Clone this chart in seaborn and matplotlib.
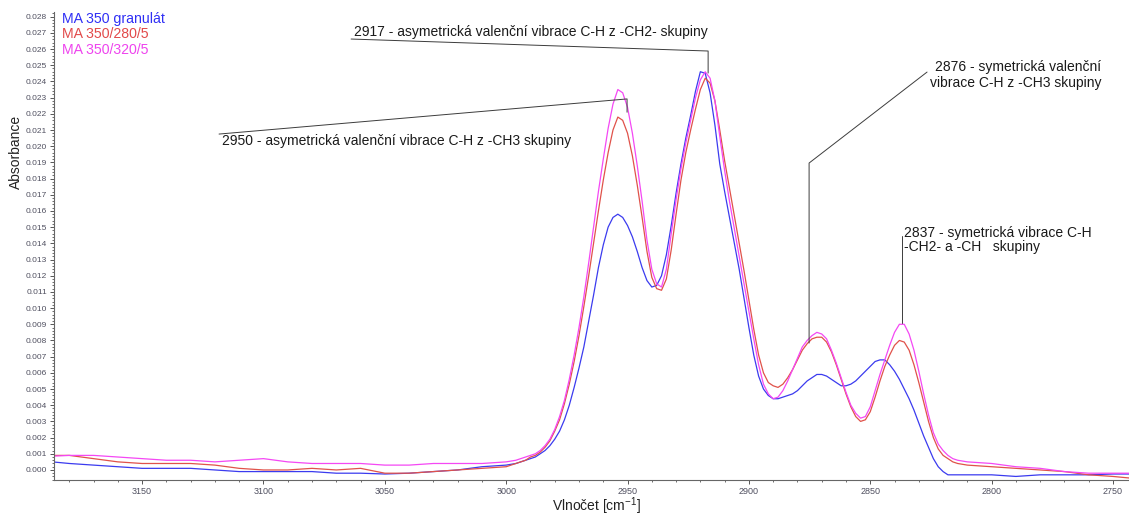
import numpy as np
import pandas as pd
import matplotlib
matplotlib.use('Agg')
import matplotlib.pyplot as plt
import seaborn as sns
from matplotlib.ticker import MultipleLocator, FormatStrFormatter

# wavenumber grid [cm-1]
wavenumber = [
    3187, 3180, 3170, 3160, 3150, 3140, 3130, 3120, 3110, 3100,
    3090, 3080, 3070, 3060, 3050, 3040, 3030, 3020, 3010, 3000,
    2996, 2994, 2992, 2990, 2988, 2986, 2984, 2982, 2980, 2978,
    2976, 2974, 2972, 2970, 2968, 2966, 2964, 2962, 2960, 2958,
    2956, 2954, 2952, 2950, 2948, 2946, 2944, 2942, 2940, 2938,
    2936, 2934, 2932, 2930, 2928, 2926, 2924, 2922, 2920, 2918,
    2916, 2914, 2912, 2910, 2908, 2906, 2904, 2902, 2900, 2898,
    2896, 2894, 2892, 2890, 2888, 2886, 2884, 2882, 2880, 2878,
    2876, 2874, 2872, 2870, 2868, 2866, 2864, 2862, 2860, 2858,
    2856, 2854, 2852, 2850, 2848, 2846, 2844, 2842, 2840, 2838,
    2836, 2834, 2832, 2830, 2828, 2826, 2824, 2822, 2820, 2818,
    2816, 2814, 2810, 2800, 2790, 2780, 2770, 2760, 2750, 2743,
]

granulat = [
    0.0005, 0.0004, 0.0003, 0.0002, 0.0001, 0.0001, 0.0001, 0.0000, -0.0001, -0.0001,
    -0.0001, -0.0001, -0.0002, -0.0002, -0.00025, -0.0002, -0.0001, 0.0000, 0.0002, 0.0003,
    0.0004, 0.0005, 0.0006, 0.0007, 0.0008, 0.0010, 0.0012, 0.0015, 0.0019, 0.0024,
    0.0031, 0.0040, 0.0051, 0.0063, 0.0076, 0.0092, 0.0108, 0.0125, 0.0139, 0.0150,
    0.0156, 0.0158, 0.0156, 0.0151, 0.0144, 0.0135, 0.0125, 0.0117, 0.0113, 0.0114,
    0.0120, 0.0133, 0.0151, 0.0171, 0.0189, 0.0205, 0.0219, 0.0234, 0.0246, 0.0245,
    0.0233, 0.0213, 0.0189, 0.0172, 0.0156, 0.0140, 0.0124, 0.0106, 0.0088, 0.0071,
    0.0058, 0.0050, 0.0046, 0.0044, 0.0044, 0.0045, 0.0046, 0.0047, 0.0049, 0.0052,
    0.0055, 0.0057, 0.0059, 0.0059, 0.0058, 0.0056, 0.0054, 0.0052, 0.0052, 0.0053,
    0.0055, 0.0058, 0.0061, 0.0064, 0.0067, 0.0068, 0.0068, 0.0065, 0.0061, 0.0056,
    0.0050, 0.0044, 0.0037, 0.0029, 0.0021, 0.0014, 0.0007, 0.0002, -0.0001, -0.0003,
    -0.0003, -0.0003, -0.0003, -0.0003, -0.0004, -0.0003, -0.0003, -0.0003, -0.00025, -0.00025,
]

ma_280 = [
    0.0009, 0.0009, 0.0007, 0.0005, 0.0004, 0.0004, 0.0004, 0.0003, 0.0001, 0.0000,
    0.0000, 0.0001, 0.0000, 0.0001, -0.0002, -0.0002, -0.0001, 0.0000, 0.0001, 0.0002,
    0.0004, 0.0005, 0.0006, 0.0008, 0.0009, 0.0011, 0.0014, 0.0018, 0.0024, 0.0031,
    0.0041, 0.0053, 0.0067, 0.0083, 0.0101, 0.0120, 0.0140, 0.0160, 0.0179, 0.0196,
    0.0210, 0.0218, 0.0216, 0.0208, 0.0194, 0.0176, 0.0156, 0.0135, 0.0119, 0.0112,
    0.0111, 0.0118, 0.0136, 0.0158, 0.0179, 0.0196, 0.0210, 0.0223, 0.0235, 0.0242,
    0.0239, 0.0228, 0.0210, 0.0191, 0.0174, 0.0157, 0.0140, 0.0123, 0.0105, 0.0087,
    0.0071, 0.0060, 0.0054, 0.0052, 0.0051, 0.0053, 0.0057, 0.0062, 0.0068, 0.0074,
    0.0078, 0.0081, 0.0082, 0.0082, 0.0079, 0.0073, 0.0065, 0.0056, 0.0047, 0.0039,
    0.0033, 0.0030, 0.0031, 0.0036, 0.0045, 0.0055, 0.0064, 0.0071, 0.0077, 0.0080,
    0.0079, 0.0074, 0.0065, 0.0054, 0.0042, 0.0030, 0.0020, 0.0013, 0.0009, 0.0007,
    0.0005, 0.0004, 0.0003, 0.0002, 0.0001, 0.0000, -0.0001, -0.0003, -0.0004, -0.0005,
]

ma_320 = [
    0.00085, 0.0009, 0.0009, 0.0008, 0.0007, 0.0006, 0.0006, 0.0005, 0.0006, 0.0007,
    0.0005, 0.0004, 0.0004, 0.0004, 0.0003, 0.0003, 0.0004, 0.0004, 0.0004, 0.0005,
    0.0006, 0.0007, 0.0008, 0.0009, 0.0010, 0.0012, 0.0015, 0.0019, 0.0025, 0.0033,
    0.0043, 0.0056, 0.0071, 0.0088, 0.0107, 0.0128, 0.0150, 0.0172, 0.0192, 0.0211,
    0.0226, 0.0235, 0.0233, 0.0224, 0.0208, 0.0188, 0.0166, 0.0142, 0.0124, 0.0115,
    0.0113, 0.0124, 0.0146, 0.0167, 0.0186, 0.0202, 0.0216, 0.0230, 0.0241, 0.0246,
    0.0242, 0.0228, 0.0206, 0.0185, 0.0166, 0.0149, 0.0132, 0.0115, 0.0098, 0.0081,
    0.0065, 0.0053, 0.0047, 0.0044, 0.0045, 0.0049, 0.0055, 0.0062, 0.0069, 0.0076,
    0.0080, 0.0083, 0.0085, 0.0084, 0.0081, 0.0074, 0.0066, 0.0057, 0.0048, 0.0040,
    0.0035, 0.0032, 0.0033, 0.0039, 0.0049, 0.0059, 0.0068, 0.0077, 0.0085, 0.0090,
    0.0090, 0.0084, 0.0074, 0.0061, 0.0047, 0.0034, 0.0023, 0.0016, 0.0012, 0.0009,
    0.0007, 0.0006, 0.0005, 0.0004, 0.0002, 0.0001, -0.0001, -0.0002, -0.0002, -0.0002,
]

sample_names = ['MA 350 granulát', 'MA 350/280/5', 'MA 350/320/5']
line_colors = ['#3b3bef', '#e0524a', '#f448f4']
label_colors = ['#2f2ff5', '#e24a4a', '#ee44ee']

sns.set_theme(style='white')
plt.rcParams['font.family'] = ['Liberation Sans', 'DejaVu Sans']
plt.rcParams['mathtext.default'] = 'regular'

df = pd.DataFrame({
    'wn': wavenumber * 3,
    'absorbance': granulat + ma_280 + ma_320,
    'sample': [n for n in sample_names for _ in wavenumber],
})

fig = plt.figure(figsize=(11.29, 5.15), dpi=100)
ax = fig.add_axes([54 / 1129, 1 - 480 / 515, 1075 / 1129, 468 / 515])

sns.lineplot(data=df, x='wn', y='absorbance', hue='sample', hue_order=sample_names,
             palette=dict(zip(sample_names, line_colors)), estimator=None,
             sort=False, legend=False, linewidth=0.9, ax=ax)

ax.set_xlim(3186.3, 2743.4)
ax.set_ylim(-0.00062, 0.02829)

ax.xaxis.set_major_locator(MultipleLocator(50))
ax.xaxis.set_minor_locator(MultipleLocator(10))
ax.xaxis.set_major_formatter(FormatStrFormatter('%d'))
ax.yaxis.set_major_locator(MultipleLocator(0.001))
ax.yaxis.set_minor_locator(MultipleLocator(0.0002))
ax.yaxis.set_major_formatter(FormatStrFormatter('%.3f'))

ax.tick_params(axis='both', which='major', direction='out', length=3, width=0.7,
               color='#555555', labelcolor='#505060', pad=2)
ax.tick_params(axis='x', which='major', labelsize=6.5)
ax.tick_params(axis='y', which='major', labelsize=6)
ax.tick_params(axis='both', which='minor', direction='out', length=1.5, width=0.6,
               color='#555555')
ax.tick_params(axis='both', which='both', bottom=True, left=True)

for side in ['top', 'right']:
    ax.spines[side].set_visible(False)
for side in ['left', 'bottom']:
    ax.spines[side].set_color('#666666')
    ax.spines[side].set_linewidth(0.8)

ax.set_xlabel('Vlnočet [cm$^{-1}$]', fontsize=10, color='#222222')
ax.xaxis.set_label_coords(0.505, -0.033)
ax.set_ylabel('Absorbance', fontsize=10, color='#222222')
ax.yaxis.set_label_coords(-0.029, 0.70)

# band assignments with leader lines
ann_color = '#3c3c3c'
ax.plot([3063.9, 2916.8, 2916.8], [0.02662, 0.02588, 0.02452], color=ann_color, lw=0.7)
ax.text(3062.5, 0.02680, '2917 - asymetrická valenční vibrace C-H z -CH2- skupiny',
        ha='left', va='baseline', fontsize=10, color='#1a1a1a')

ax.plot([3118.3, 2950.2, 2950.2], [0.02075, 0.02292, 0.02210], color=ann_color, lw=0.7)
ax.text(3117.0, 0.02010, '2950 - asymetrická valenční vibrace C-H z -CH3 skupiny',
        ha='left', va='baseline', fontsize=10, color='#1a1a1a')

ax.plot([2826.6, 2875.2, 2875.2], [0.02458, 0.01896, 0.00784], color=ann_color, lw=0.7)
ax.text(2754.9, 0.02440, '2876 - symetrická valenční\nvibrace C-H z -CH3 skupiny',
        ha='right', va='center', multialignment='right', linespacing=1.15,
        fontsize=10, color='#1a1a1a')

ax.plot([2836.9, 2836.9], [0.01445, 0.00908], color=ann_color, lw=0.7)
ax.text(2836.2, 0.01421, '2837 - symetrická vibrace C-H\n-CH2- a -CH   skupiny',
        ha='left', va='center', linespacing=1.0, fontsize=10, color='#1a1a1a')

# sample labels, top left
for name, col, ypix in zip(sample_names, label_colors, [19, 34, 50]):
    fig.text(62 / 1129, 1 - ypix / 515, name, color=col, fontsize=10.2,
             ha='left', va='center')

fig.savefig('out.png', dpi=100)
